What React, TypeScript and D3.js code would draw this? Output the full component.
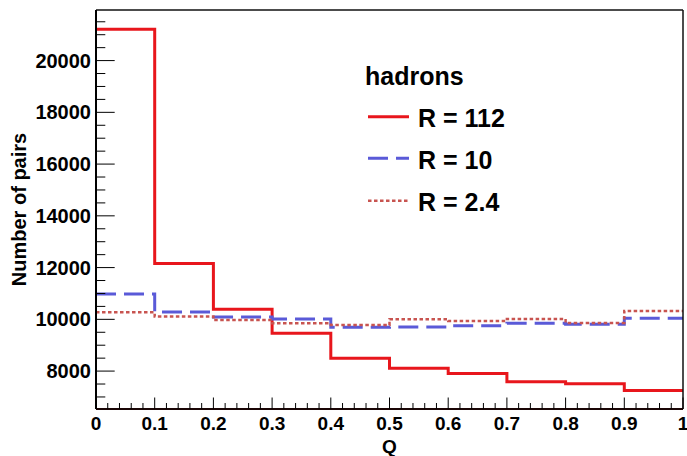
import React from "react";
import * as d3 from "d3";

const binEdges = [0, 0.1, 0.2, 0.3, 0.4, 0.5, 0.6, 0.7, 0.8, 0.9];
const r112 = [21212, 12154, 10386, 9459, 8494, 8108, 7907, 7587, 7510, 7251];
const r10 = [10977, 10282, 10090, 10012, 9690, 9705, 9748, 9845, 9807, 10038];
const r24 = [10270, 10110, 9970, 9845, 9780, 10005, 9934, 10012, 9860, 10325];
const xTickLabels = ["0", "0.1", "0.2", "0.3", "0.4", "0.5", "0.6", "0.7", "0.8", "0.9", "1"];
const yTickValues = [8000, 10000, 12000, 14000, 16000, 18000, 20000];
const legendTitle = "hadrons";
const legendLabels = ["R = 112", "R = 10", "R = 2.4"];

const W = 687;
const H = 456;
const L = 96, R = 683, T = 10, B = 409;

export default function App() {
  const x = d3.scaleLinear().domain([0, 1]).range([L, R]);
  const y = d3.scaleLinear().domain([6535, 21955]).range([B, T]);

  const mk = (vals: number[]) => {
    const pts: [number, number][] = vals.map((v, i) => [binEdges[i], v]);
    pts.push([1, vals[vals.length - 1]]);
    return d3
      .line<[number, number]>()
      .x((d) => x(d[0]))
      .y((d) => y(d[1]))
      .curve(d3.curveStepAfter)(pts) as string;
  };

  const series = [
    { vals: r112, color: "#e8161c", width: 3, dash: undefined as string | undefined },
    { vals: r10, color: "#5a5ad8", width: 3, dash: "20 8" },
    { vals: r24, color: "#c85450", width: 2.5, dash: "3.5 2.5" },
  ];

  const xMinor = d3.range(0, 51).map((i) => i / 50);
  const yMinor = d3.range(7000, 22000, 500).filter((v) => v >= 6535 && v <= 21955);

  const font = "'Liberation Sans', Arial, Helvetica, sans-serif";

  const legY = [116.7, 158.3, 200.7];

  return (
    <svg
      width={W}
      height={H}
      style={{ position: "absolute", left: 0, top: 0, background: "#fff" }}
      fontFamily={font}
    >
      <rect x={0} y={0} width={W} height={H} fill="#fff" />
      {/* histograms */}
      {series.map((s, i) => (
        <path
          key={i}
          d={mk(s.vals)}
          fill="none"
          stroke={s.color}
          strokeWidth={s.width}
          strokeDasharray={s.dash}
        />
      ))}
      {/* frame */}
      <line x1={L} y1={T} x2={R} y2={T} stroke="#111" strokeWidth={1.5} />
      <line x1={R} y1={T} x2={R} y2={B} stroke="#111" strokeWidth={1.5} />
      <line x1={L} y1={T} x2={L} y2={B} stroke="#000" strokeWidth={2} />
      <line x1={L} y1={B} x2={R} y2={B} stroke="#1a0505" strokeWidth={2} />
      {/* x ticks */}
      {xMinor.map((v, i) => (
        <line
          key={"xm" + i}
          x1={x(v)}
          x2={x(v)}
          y1={B}
          y2={B - (i % 5 === 0 ? 11.5 : 6)}
          stroke="#000"
          strokeWidth={1}
        />
      ))}
      {xTickLabels.map((t, i) => (
        <text
          key={"xl" + i}
          x={x(i / 10)}
          y={430}
          textAnchor="middle"
          fontSize={19}
          fontWeight="bold"
          fill="#000"
        >
          {t}
        </text>
      ))}
      <text x={(L + R) / 2} y={453} textAnchor="middle" fontSize={19} fontWeight="bold">
        Q
      </text>
      {/* y ticks */}
      {yMinor.map((v, i) => (
        <line
          key={"ym" + i}
          x1={L}
          x2={L + (v % 2000 === 0 ? 18.7 : 9.3)}
          y1={y(v)}
          y2={y(v)}
          stroke="#000"
          strokeWidth={1}
        />
      ))}
      {yTickValues.map((v) => (
        <text
          key={"yl" + v}
          x={91}
          y={y(v) + 7}
          textAnchor="end"
          fontSize={20}
          fontWeight="bold"
        >
          {v}
        </text>
      ))}
      <text
        transform={`translate(26, ${(T + B) / 2}) rotate(-90)`}
        textAnchor="middle"
        fontSize={20}
        fontWeight="bold"
      >
        Number of pairs
      </text>
      {/* legend */}
      <text x={365} y={85} fontSize={25} fontWeight="bold">
        {legendTitle}
      </text>
      {series.map((s, i) => (
        <g key={"lg" + i}>
          <line
            x1={368}
            x2={409}
            y1={legY[i]}
            y2={legY[i]}
            stroke={s.color}
            strokeWidth={s.width}
            strokeDasharray={s.dash}
          />
          <text x={418} y={legY[i] + 10.5} fontSize={25} fontWeight="bold">
            {legendLabels[i]}
          </text>
        </g>
      ))}
    </svg>
  );
}
